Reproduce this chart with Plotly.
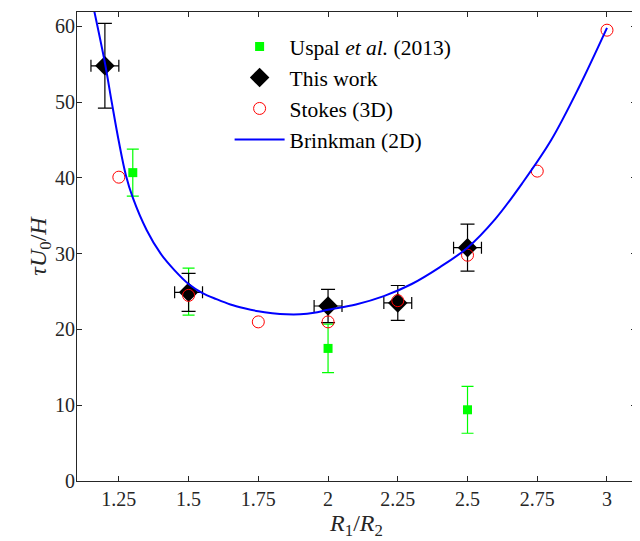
import plotly.graph_objects as go

# Uspal et al. (2013)
uspal_x = [1.3, 1.5, 2.0, 2.5]
uspal_y = [40.7, 25.0, 17.5, 9.4]
uspal_err = [3.1, 3.1, 3.2, 3.1]

# This work
work_x = [1.2, 1.5, 2.0, 2.25, 2.5]
work_y = [54.8, 24.9, 23.1, 23.5, 30.8]
work_yerr = [5.6, 2.5, 2.2, 2.3, 3.1]
work_xerr = [0.05, 0.05, 0.05, 0.05, 0.05]

# Stokes (3D)
stokes_x = [1.25, 1.5, 1.75, 2.0, 2.25, 2.5, 2.75, 3.0]
stokes_y = [40.1, 24.5, 21.0, 21.0, 23.8, 29.8, 40.9, 59.5]

# Brinkman (2D)
brink_x = [1.162, 1.2, 1.225, 1.25, 1.275, 1.3, 1.35, 1.4, 1.45, 1.5, 1.55, 1.6, 1.65,
           1.7, 1.75, 1.8, 1.85, 1.9, 1.95, 2.0, 2.1, 2.2, 2.3, 2.4, 2.5, 2.6, 2.7,
           2.8, 2.9, 3.0]
brink_y = [62.0, 55.2, 49.9, 44.8, 40.4, 37.4, 33.1, 30.0, 27.8, 26.0, 24.8, 24.0, 23.3,
           22.8, 22.4, 22.15, 22.0, 22.0, 22.2, 22.6, 23.3, 24.4, 26.0, 28.2, 30.8, 34.6,
           39.5, 45.0, 52.0, 59.8]

x_ticks = [1.25, 1.5, 1.75, 2.0, 2.25, 2.5, 2.75, 3.0]
x_labels = ["1.25", "1.5", "1.75", "2", "2.25", "2.5", "2.75", "3"]
y_ticks = [0, 10, 20, 30, 40, 50, 60]

FONT = "Liberation Serif"
FRAME = "#262626"

fig = go.Figure()
fig.add_trace(go.Scatter(
    x=uspal_x, y=uspal_y, mode="markers", name="Uspal <i>et al.</i> (2013)",
    marker=dict(symbol="square", size=9, color="#00ff00"),
    error_y=dict(type="data", array=uspal_err, color="#00ff00", thickness=1.2, width=6),
))
fig.add_trace(go.Scatter(
    x=work_x, y=work_y, mode="markers", name="This work",
    marker=dict(symbol="diamond", size=15, color="black"),
    error_y=dict(type="data", array=work_yerr, color="black", thickness=1.2, width=7),
    error_x=dict(type="data", array=work_xerr, color="black", thickness=1.2, width=6),
))
fig.add_trace(go.Scatter(
    x=stokes_x, y=stokes_y, mode="markers", name="Stokes (3D)",
    marker=dict(symbol="circle-open", size=12, color="red", line=dict(width=1, color="red")),
))
fig.add_trace(go.Scatter(
    x=brink_x, y=brink_y, mode="lines", name="Brinkman (2D)",
    line=dict(color="#0000ff", width=2, shape="spline"),
))

axis_common = dict(
    showline=True, linecolor=FRAME, linewidth=1, mirror="ticks",
    ticks="inside", ticklen=5, tickcolor=FRAME, showgrid=False, zeroline=False,
    tickfont=dict(family=FONT, size=20, color="#262626"), automargin=False,
)

fig.update_layout(
    width=632, height=533,
    margin=dict(l=69, r=4, t=4, b=60),
    paper_bgcolor="white", plot_bgcolor="white",
    font=dict(family=FONT, color="#262626"),
    xaxis=dict(range=[1.1, 3.104], tickvals=x_ticks, ticktext=x_labels,
               title=dict(text="<i>R</i><sub>1</sub>/<i>R</i><sub>2</sub>",
                          font=dict(family=FONT, size=24), standoff=2),
               **axis_common),
    yaxis=dict(range=[0, 61.9], tickvals=y_ticks, ticklabelstandoff=-3,
               title=dict(text="<i>τU</i><sub>0</sub>/<i>H</i>",
                          font=dict(family=FONT, size=24), standoff=0),
               **axis_common),
    legend=dict(x=0.273, y=0.97, xanchor="left", yanchor="top",
                bgcolor="rgba(0,0,0,0)", font=dict(family=FONT, size=21.5, color="black"),
                itemwidth=50, tracegroupgap=0),
    showlegend=True,
)

fig.write_html("out.html")
